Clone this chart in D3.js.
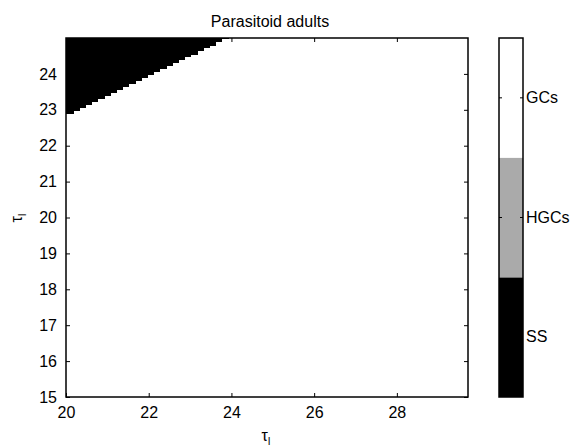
<!DOCTYPE html>
<html>
<head>
<meta charset="utf-8">
<script src="https://cdn.jsdelivr.net/npm/d3@7"></script>
<style>
  body { margin: 0; background: #fff; }
  text { font-family: "Liberation Sans", Arial, sans-serif; fill: #000; }
</style>
</head>
<body>
<svg id="plate" width="575" height="447"></svg>
<script>
// column left edges (tau_I) of the black region and lowest black tau_l per column
var colStart = [20.00, 20.15, 20.30, 20.45, 20.60, 20.75, 20.90, 21.05, 21.20, 21.35, 21.50, 21.65, 21.80,
    21.95, 22.10, 22.25, 22.40, 22.55, 22.70, 22.85, 23.00, 23.15, 23.30, 23.45, 23.60, 23.75];
var colBoundary = [22.88, 22.96, 23.04, 23.13, 23.21, 23.29, 23.38, 23.46, 23.54, 23.63, 23.71, 23.79, 23.88,
    23.96, 24.04, 24.13, 24.21, 24.29, 24.38, 24.46, 24.54, 24.63, 24.71, 24.79, 24.88, 24.96];
var colWidth = 0.15;
var xTicks = [20, 22, 24, 26, 28];
var yTicks = [15, 16, 17, 18, 19, 20, 21, 22, 23, 24];
var states = ['SS', 'HGCs', 'GCs'];
var stateColors = ['#000000', '#aaaaaa', '#ffffff'];

var margin = {top: 38, left: 66};
var width = 402, height = 359;

var svg = d3.select('#plate');
var g = svg.append('g').attr('transform', 'translate(' + margin.left + ',' + margin.top + ')');

var x = d3.scaleLinear().domain([20, 29.72]).range([0, width]);
var y = d3.scaleLinear().domain([15, 25]).range([height, 0]);

// background = GCs
g.append('rect').attr('width', width).attr('height', height).attr('fill', '#fff');

// SS region
g.selectAll('rect.cell')
    .data(colStart)
    .enter().append('rect')
    .attr('class', 'cell')
    .attr('shape-rendering', 'crispEdges')
    .attr('x', (d) => Math.floor(x(d)))
    .attr('width', (d) => Math.ceil(x(d + colWidth) - x(d)) + 1)
    .attr('y', y(25))
    .attr('height', (d, i) => Math.round(y(colBoundary[i]) - y(25)))
    .attr('fill', '#000');

// axes, ticks inward on all sides
var axisStyle = function(sel) {
    sel.select('.domain').remove();
    sel.selectAll('line').attr('stroke', '#000');
    sel.selectAll('text').attr('font-family', null).style('font-size', '16px');
};
g.append('g').attr('transform', 'translate(0,' + height + ')')
    .call(d3.axisBottom(x).tickValues(xTicks).tickSize(-4).tickPadding(10))
    .call(axisStyle);
g.append('g')
    .call(d3.axisTop(x).tickValues(xTicks).tickSize(-4).tickFormat(''))
    .call(axisStyle);
g.append('g')
    .call(d3.axisLeft(y).tickValues(yTicks).tickSize(-4).tickPadding(9))
    .call(axisStyle);
g.append('g').attr('transform', 'translate(' + width + ',0)')
    .call(d3.axisRight(y).tickValues(yTicks).tickSize(-4).tickFormat(''))
    .call(axisStyle);

g.append('rect').attr('width', width).attr('height', height)
    .attr('fill', 'none').attr('stroke', '#000').attr('stroke-width', 1.5);

// title and labels
svg.append('text').attr('x', 270).attr('y', 27).attr('text-anchor', 'middle')
    .style('font-size', '16px').text('Parasitoid adults');
var xl = svg.append('text').attr('x', 266).attr('y', 441).attr('text-anchor', 'middle').style('font-size', '16px');
xl.append('tspan').text('τ');
xl.append('tspan').attr('dy', 4).style('font-size', '10px').text('I');
var yl = svg.append('text').attr('transform', 'translate(22,218) rotate(-90)').attr('text-anchor', 'middle').style('font-size', '16px');
yl.append('tspan').text('τ');
yl.append('tspan').attr('dy', 4).style('font-size', '10px').text('I');

// colorbar
var cb = svg.append('g').attr('transform', 'translate(499,' + margin.top + ')');
var cbW = 24;
var cy = d3.scaleBand().domain(states.slice().reverse()).range([0, height]);
cb.selectAll('rect.band')
    .data(states)
    .enter().append('rect')
    .attr('class', 'band')
    .attr('x', 0)
    .attr('y', (d) => cy(d))
    .attr('width', cbW)
    .attr('height', cy.bandwidth())
    .attr('fill', (d, i) => stateColors[i]);
cb.append('g').attr('transform', 'translate(' + cbW + ',0)')
    .call(d3.axisRight(cy).tickSize(-3).tickPadding(3))
    .call(axisStyle);
cb.append('g')
    .call(d3.axisLeft(cy).tickSize(-3).tickFormat(''))
    .call(axisStyle);
cb.append('rect').attr('width', cbW).attr('height', height)
    .attr('fill', 'none').attr('stroke', '#000').attr('stroke-width', 1.5);
</script>
</body>
</html>
